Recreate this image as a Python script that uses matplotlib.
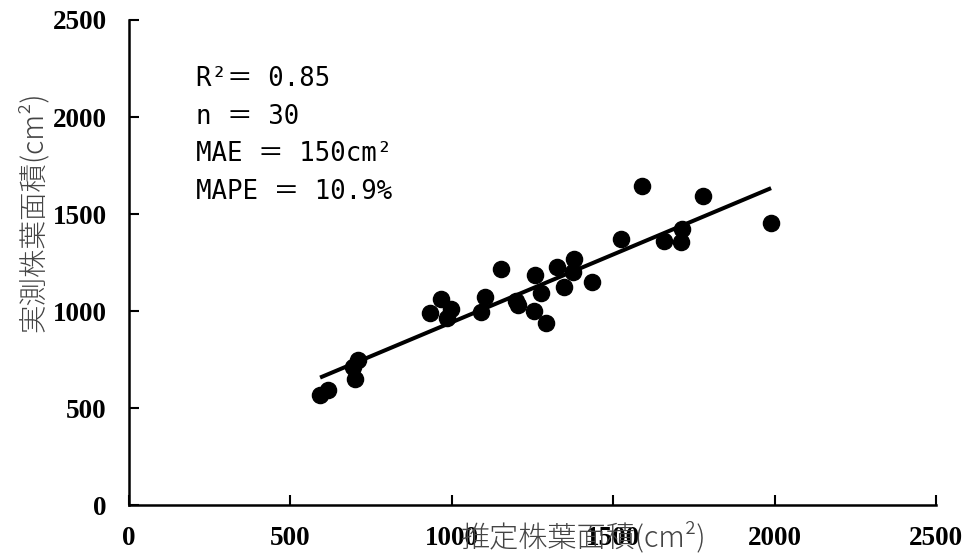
import matplotlib
matplotlib.use("Agg")
import matplotlib.pyplot as plt
import numpy as np

# Estimated (x) vs measured (y) leaf area per plant, cm2
estimated = np.array([592, 616, 694, 700, 709, 932, 967, 985, 997, 1090,
                      1103, 1152, 1199, 1205, 1255, 1258, 1276, 1292, 1326, 1348,
                      1379, 1375, 1434, 1524, 1589, 1657, 1710, 1713, 1778, 1989])
measured = np.array([567, 593, 711, 649, 747, 990, 1062, 964, 1010, 995,
                     1072, 1216, 1052, 1031, 1000, 1186, 1093, 938, 1227, 1124,
                     1268, 1201, 1149, 1371, 1644, 1361, 1356, 1423, 1593, 1454])
ticks = [0, 500, 1000, 1500, 2000, 2500]
stats_text = "R²＝ 0.85\nn ＝ 30\nMAE ＝ 150cm²\nMAPE ＝ 10.9%"

fig = plt.figure(figsize=(9.66, 5.54), dpi=100)
ax = fig.add_axes([0.1335, 0.0884, 0.8355, 0.8755])

ax.scatter(estimated, measured, s=135, color="black", zorder=3)

# linear fit through the points
slope, intercept = np.polyfit(estimated, measured, 1)
xs = np.array([estimated.min(), estimated.max()])
ax.plot(xs, slope * xs + intercept, color="black", lw=2.9, solid_capstyle="butt")

ax.set_xlim(0, 2500)
ax.set_ylim(0, 2500)
ax.set_xticks(ticks)
ax.set_yticks(ticks)
for s in ["top", "right"]:
    ax.spines[s].set_visible(False)
for s in ["left", "bottom"]:
    ax.spines[s].set_linewidth(1.8)
ax.tick_params(direction="in", length=7, width=1.5)
ax.tick_params(axis="y", pad=16)
ax.tick_params(axis="x", pad=15)
for lab in ax.get_xticklabels() + ax.get_yticklabels():
    lab.set_family("Liberation Serif")
    lab.set_fontsize(19.5)
    lab.set_weight("bold")

ax.text(207, 2262, stats_text, family=["DejaVu Sans Mono", "Noto Sans CJK JP"],
        fontsize=18.5, va="top", ha="left", linespacing=1.58)

ax.set_ylabel("実測株葉面積(cm²)", family=["Noto Sans CJK JP"], fontsize=20.5,
              color="#444444", fontweight="light")
ax.yaxis.set_label_coords(-0.100, 0.605)
xl = ax.set_xlabel("推定株葉面積(cm²)", family=["Noto Sans CJK JP"], fontsize=21,
                   color="#444444", fontweight="light")
xl.set_va("center")
ax.xaxis.set_label_coords(0.562, -0.068)

fig.savefig("out.png", dpi=100)
